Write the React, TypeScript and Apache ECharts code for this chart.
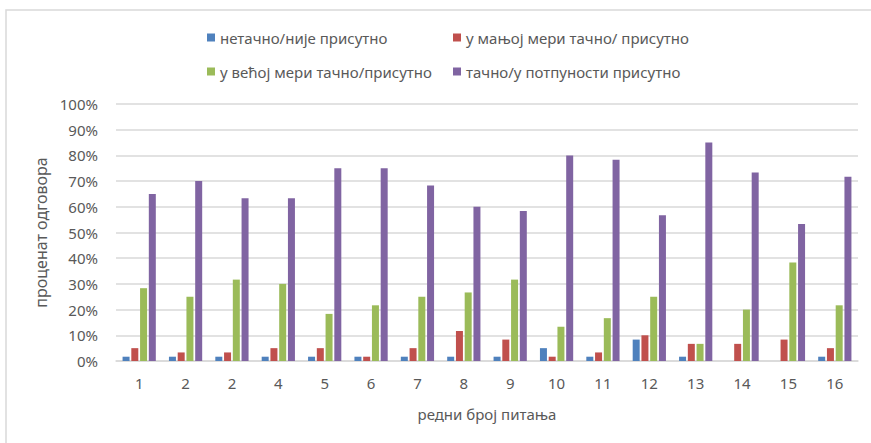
import React, { useEffect, useRef } from "react";
import * as echarts from "echarts";

const categories = ["1", "2", "2", "4", "5", "6", "7", "8", "9", "10", "11", "12", "13", "14", "15", "16"];
const seriesNames = [
  "нетачно/није присутно",
  "у мањој мери тачно/ присутно",
  "у већој мери тачно/присутно",
  "тачно/у потпуности присутно",
];
const notPresent = [1.67, 1.67, 1.67, 1.67, 1.67, 1.67, 1.67, 1.67, 1.67, 5, 1.67, 8.33, 1.67, 0, 0, 1.67];
const lesserExtent = [5, 3.33, 3.33, 5, 5, 1.67, 5, 11.67, 8.33, 1.67, 3.33, 10, 6.67, 6.67, 8.33, 5];
const greaterExtent = [28.33, 25, 31.67, 30, 18.33, 21.67, 25, 26.67, 31.67, 13.33, 16.67, 25, 6.67, 20, 38.33, 21.67];
const fullyPresent = [65, 70, 63.33, 63.33, 75, 75, 68.33, 60, 58.33, 80, 78.33, 56.67, 85, 73.33, 53.33, 71.67];
const yTicks = [0, 10, 20, 30, 40, 50, 60, 70, 80, 90, 100];
const colors = ["#4F81BD", "#C0504D", "#9BBB59", "#8064A2"];

const FONT = "Noto Sans";
const TXT = "#595959";

export default function App() {
  const ref = useRef<HTMLDivElement>(null);
  useEffect(() => {
    if (!ref.current) return;
    const chart = echarts.init(ref.current, undefined, { renderer: "svg" });
    const values = [notPresent, lesserExtent, greaterExtent, fullyPresent];
    chart.setOption({
      animation: false,
      textStyle: { fontFamily: FONT },
      color: colors,
      graphic: [
        {
          type: "rect",
          shape: { x: 6, y: 10, width: 1000, height: 600 },
          style: { fill: "none", stroke: "#d9d9d9", lineWidth: 1.5 },
          silent: true,
        },
      ],
      legend: [
        {
          left: 202,
          top: 25,
          orient: "vertical",
          icon: "rect",
          itemWidth: 8,
          itemHeight: 8,
          itemGap: 19,
          data: [seriesNames[0], seriesNames[2]],
          textStyle: { fontSize: 15, color: TXT, fontFamily: FONT },
        },
        {
          left: 448,
          top: 25,
          orient: "vertical",
          icon: "rect",
          itemWidth: 8,
          itemHeight: 8,
          itemGap: 19,
          data: [seriesNames[1], seriesNames[3]],
          textStyle: { fontSize: 15, color: TXT, fontFamily: FONT },
        },
      ],
      grid: { left: 116, right: 13, top: 104, bottom: 82, containLabel: false },
      xAxis: {
        type: "category",
        data: categories,
        axisLine: { lineStyle: { color: "#d9d9d9", width: 1.5 } },
        axisTick: { show: false },
        axisLabel: { color: TXT, fontSize: 15, margin: 14, interval: 0 },
        name: "редни број питања",
        nameLocation: "middle",
        nameGap: 45,
        nameTextStyle: { color: TXT, fontSize: 15 },
      },
      yAxis: {
        type: "value",
        min: yTicks[0],
        max: yTicks[yTicks.length - 1],
        interval: 10,
        axisLine: { show: false },
        axisTick: { show: false },
        axisLabel: { color: TXT, fontSize: 15, margin: 18, formatter: "{value}%" },
        splitLine: { lineStyle: { color: "#d9d9d9", width: 1.5 } },
        name: "проценат одговора",
        nameLocation: "middle",
        nameRotate: 90,
        nameGap: 64,
        nameTextStyle: { color: TXT, fontSize: 16 },
      },
      series: values.map((v, i) => ({
        name: seriesNames[i],
        type: "bar",
        data: v,
        barWidth: 7,
        barGap: "25%",
        itemStyle: { color: colors[i] },
      })),
    });
    return () => chart.dispose();
  }, []);
  return (
    <div
      ref={ref}
      style={{ position: "fixed", left: 0, top: 0, width: 871, height: 443, background: "#fff" }}
    />
  );
}
